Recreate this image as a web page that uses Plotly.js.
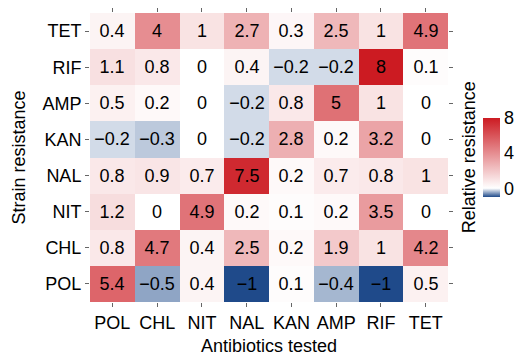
<!DOCTYPE html>
<html>
<head>
<meta charset="utf-8">
<script src="https://cdn.plot.ly/plotly-3.0.1.min.js"></script>
<style>html,body{margin:0;padding:0;background:#fff;}#chart{width:522px;height:356px;}</style>
</head>
<body>
<div id="chart"></div>
<script>
// Antibiotics tested (x, left to right)
const antibiotics = ["POL", "CHL", "NIT", "NAL", "KAN", "AMP", "RIF", "TET"];
// Strain resistance (y, top to bottom)
const strains = ["TET", "RIF", "AMP", "KAN", "NAL", "NIT", "CHL", "POL"];
// Relative resistance values, one row per strain (top to bottom)
const rowTET = [0.4, 4, 1, 2.7, 0.3, 2.5, 1, 4.9];
const rowRIF = [1.1, 0.8, 0, 0.4, -0.2, -0.2, 8, 0.1];
const rowAMP = [0.5, 0.2, 0, -0.2, 0.8, 5, 1, 0];
const rowKAN = [-0.2, -0.3, 0, -0.2, 2.8, 0.2, 3.2, 0];
const rowNAL = [0.8, 0.9, 0.7, 7.5, 0.2, 0.7, 0.8, 1];
const rowNIT = [1.2, 0, 4.9, 0.2, 0.1, 0.2, 3.5, 0];
const rowCHL = [0.8, 4.7, 0.4, 2.5, 0.2, 1.9, 1, 4.2];
const rowPOL = [5.4, -0.5, 0.4, -1, 0.1, -0.4, -1, 0.5];
const colorbarTicks = [0, 4, 8];

const z = [rowTET, rowRIF, rowAMP, rowKAN, rowNAL, rowNIT, rowCHL, rowPOL];
const labels = z.map(r => r.map(v => String(v).replace('-', '\u2212')));

const zmin = -1, zmax = 8;
const mid = (0 - zmin) / (zmax - zmin);

const trace = {
  type: 'heatmap',
  x: antibiotics,
  y: strains,
  z: z,
  text: labels,
  texttemplate: '%{text}',
  textfont: {family: 'Liberation Sans, Arial, sans-serif', size: 18, color: '#000'},
  zmin: zmin, zmax: zmax,
  colorscale: [[0, '#1f4a8a'], [mid, '#ffffff'], [1, '#cc1b22']],
  xgap: 0, ygap: 0,
  hoverongaps: false,
  colorbar: {
    tickvals: colorbarTicks,
    ticktext: colorbarTicks.map(String),
    ticks: '',
    outlinewidth: 0,
    thickness: 17,
    thicknessmode: 'pixels',
    len: 79,
    lenmode: 'pixels',
    x: 1.0986, xanchor: 'left', xpad: 0,
    y: 0.5, yanchor: 'middle', ypad: 0,
    tickfont: {family: 'Liberation Sans, Arial, sans-serif', size: 18, color: '#000'},
    title: {text: ''}
  }
};

const font = {family: 'Liberation Sans, Arial, sans-serif', size: 18, color: '#000'};

const layout = {
  width: 522, height: 356,
  margin: {l: 90, r: 70, t: 13, b: 54, pad: 0},
  paper_bgcolor: '#fff', plot_bgcolor: '#fff',
  font: font,
  xaxis: {
    type: 'category',
    title: {text: 'Antibiotics tested', font: font, standoff: 10},
    tickfont: font,
    ticks: 'outside', ticklen: 4, tickwidth: 1, tickcolor: '#666',
    mirror: 'ticks', showline: false,
    showgrid: false, zeroline: false,
    automargin: false
  },
  yaxis: {
    type: 'category',
    autorange: 'reversed',
    title: {text: 'Strain resistance', font: font, standoff: 12},
    tickfont: font,
    ticks: 'outside', ticklen: 4, tickwidth: 1, tickcolor: '#666',
    mirror: 'ticks', showline: false,
    showgrid: false, zeroline: false,
    automargin: false
  },
  annotations: [{
    text: 'Relative resistance',
    xref: 'paper', yref: 'paper',
    x: (473 - 90) / 362, y: 0.5,
    xanchor: 'center', yanchor: 'middle',
    textangle: -90, showarrow: false,
    font: font
  }]
};

Plotly.newPlot('chart', [trace], layout, {displayModeBar: false, staticPlot: true});
</script>
</body>
</html>
